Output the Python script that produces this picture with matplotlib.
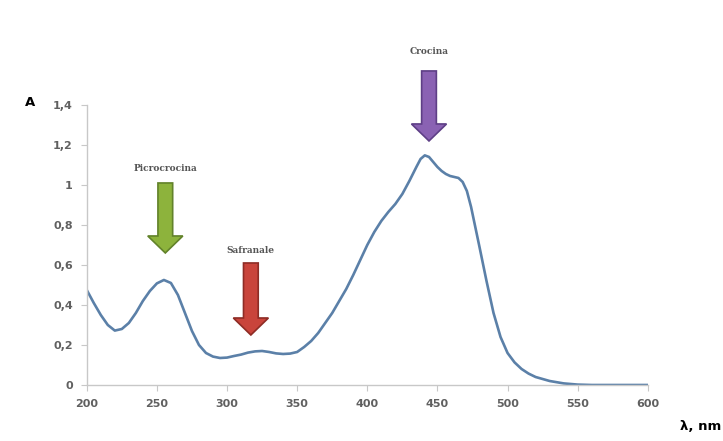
import numpy as np
import matplotlib
matplotlib.use('Agg')
import matplotlib.pyplot as plt
from matplotlib.patches import FancyArrow

# Absorption spectrum
wavelength = [200, 205, 210, 215, 220, 225, 230, 235, 240, 245, 250, 255, 260, 265,
              270, 275, 280, 285, 290, 295, 300, 305, 310, 315, 320, 325, 330, 335,
              340, 345, 350, 355, 360, 365, 370, 375, 380, 385, 390, 395, 400, 405,
              410, 415, 420, 425, 430, 435, 438, 441, 444, 447, 450, 453, 456, 459,
              462, 465, 468, 471, 474, 477, 480, 485, 490, 495, 500, 505, 510, 515,
              520, 530, 540, 550, 560, 600]
absorbance = [0.475, 0.41, 0.35, 0.30, 0.272, 0.28, 0.31, 0.36, 0.42, 0.47, 0.508, 0.525,
              0.51, 0.45, 0.36, 0.27, 0.20, 0.16, 0.142, 0.135, 0.137, 0.145, 0.152, 0.162,
              0.168, 0.17, 0.165, 0.158, 0.155, 0.157, 0.165, 0.19, 0.22, 0.26, 0.31, 0.36,
              0.42, 0.48, 0.55, 0.625, 0.70, 0.765, 0.82, 0.865, 0.905, 0.955, 1.02, 1.09,
              1.13, 1.148, 1.14, 1.115, 1.09, 1.07, 1.055, 1.045, 1.04, 1.035, 1.015, 0.97,
              0.89, 0.79, 0.69, 0.52, 0.36, 0.24, 0.16, 0.113, 0.08, 0.057, 0.04, 0.02,
              0.008, 0.002, 0.0, 0.0]

x_ticks = [200, 250, 300, 350, 400, 450, 500, 550, 600]
y_ticks = [0, 0.2, 0.4, 0.6, 0.8, 1.0, 1.2, 1.4]
y_tick_labels = ['0', '0,2', '0,4', '0,6', '0,8', '1', '1,2', '1,4']

# Peak annotations: label, x, arrow top, arrow tip, label y, colours
labels = ['Picrocrocina', 'Safranale', 'Crocina']
label_x = [256, 317, 444]
arrow_top = [1.01, 0.61, 1.57]
arrow_tip = [0.66, 0.25, 1.22]
label_y = [1.08, 0.67, 1.665]
fill_colors = ['#8db33c', '#c9443b', '#8a62b3']
edge_colors = ['#62822a', '#8e2c25', '#5e3f86']

fig = plt.figure(figsize=(7.23, 4.41), dpi=100)
ax = fig.add_axes([0.120, 0.127, 0.776, 0.635])

ax.plot(wavelength, absorbance, color='#5b80a8', linewidth=1.9)

ax.set_xlim(200, 600)
ax.set_ylim(0, 1.4)
ax.set_xticks(x_ticks)
ax.set_yticks(y_ticks)
ax.set_yticklabels(y_tick_labels)

for side in ['top', 'right']:
    ax.spines[side].set_visible(False)
for side in ['left', 'bottom']:
    ax.spines[side].set_color('#c8c8c8')
    ax.spines[side].set_linewidth(1)
ax.tick_params(axis='both', direction='out', length=4, color='#c8c8c8',
               labelsize=8, labelcolor='#606060', pad=6)
for lab in ax.get_xticklabels() + ax.get_yticklabels():
    lab.set_fontweight('bold')

# arrows and names
for name, xc, top, tip, ly, fc, ec in zip(labels, label_x, arrow_top, arrow_tip,
                                          label_y, fill_colors, edge_colors):
    arr = FancyArrow(xc, top, 0, tip - top, width=10.5, head_width=25,
                     head_length=0.085, length_includes_head=True,
                     facecolor=fc, edgecolor=ec, linewidth=1.2, clip_on=False)
    ax.add_patch(arr)
    ax.text(xc, ly, name, ha='center', va='center', fontsize=6.5,
            family='DejaVu Serif', fontweight='bold', color='#555555',
            clip_on=False)

fig.text(30 / 723, 1 - 103 / 441, 'A', ha='center', va='center', fontsize=9.5,
         fontweight='bold', color='black')
fig.text(701 / 723, 1 - 427 / 441, 'λ, nm', ha='center', va='center', fontsize=9.5,
         fontweight='bold', color='black')

fig.savefig('out.png', dpi=100)
